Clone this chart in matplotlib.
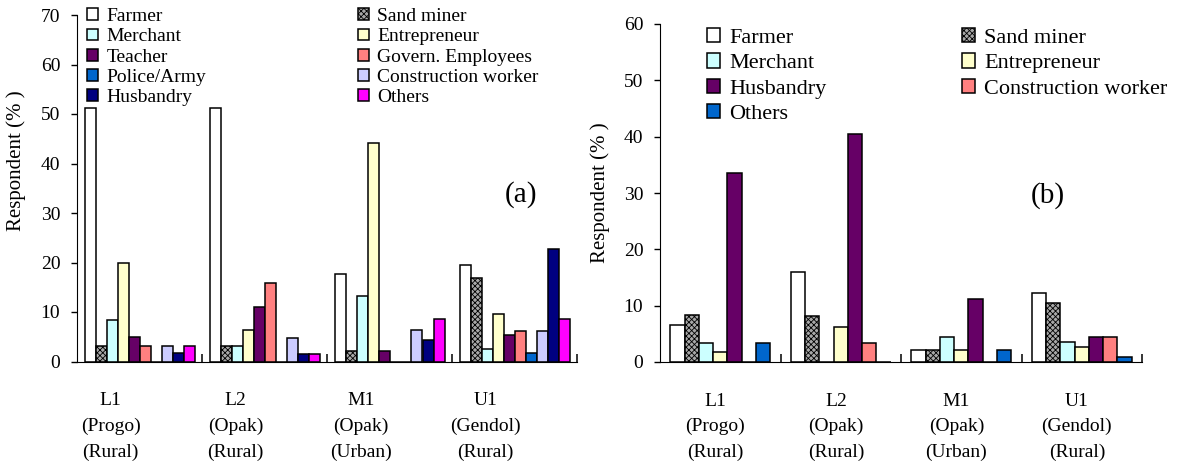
import numpy as np
import matplotlib
matplotlib.use("Agg")
import matplotlib.pyplot as plt
from matplotlib.ticker import FixedLocator, NullFormatter

plt.rcParams['font.family'] = ['Liberation Serif', 'DejaVu Serif']
plt.rcParams['hatch.linewidth'] = 0.6

sites = ["L1\n(Progo)\n(Rural)", "L2\n(Opak)\n(Rural)", "M1\n(Opak)\n(Urban)", "U1\n(Gendol)\n(Rural)"]

# panel (a) - occupation of respondents
occ_a = ["Farmer", "Sand miner", "Merchant", "Entrepreneur", "Teacher",
         "Govern. Employees", "Police/Army", "Construction worker", "Husbandry", "Others"]
farmer_a = [51.3, 51.3, 17.6, 19.4]
sand_a = [3.2, 3.2, 2.1, 16.8]
merchant_a = [8.4, 3.2, 13.2, 2.6]
entre_a = [19.8, 6.3, 44.1, 9.6]
teacher_a = [5.0, 11.1, 2.1, 5.4]
govern_a = [3.2, 15.9, 0, 6.2]
police_a = [0, 0, 0, 1.7]
constr_a = [3.2, 4.8, 6.4, 6.2]
husb_a = [1.7, 1.5, 4.4, 22.7]
others_a = [3.2, 1.5, 8.6, 8.6]
vals_a = [farmer_a, sand_a, merchant_a, entre_a, teacher_a, govern_a, police_a, constr_a, husb_a, others_a]
cols_a = ['white', '#a8a8a8', '#ccffff', '#ffffcc', '#660066', '#ff8080',
          '#0066cc', '#ccccff', '#000080', '#ff00ff']

# panel (b)
occ_b = ["Farmer", "Sand miner", "Merchant", "Entrepreneur", "Husbandry", "Construction worker", "Others"]
farmer_b = [6.6, 16.0, 2.1, 12.3]
sand_b = [8.4, 8.1, 2.1, 10.5]
merchant_b = [3.3, 0, 4.4, 3.6]
entre_b = [1.8, 6.2, 2.1, 2.7]
husb_b = [33.5, 40.4, 11.1, 4.4]
constr_b = [0, 3.3, 0, 4.4]
others_b = [3.3, 0, 2.1, 0.8]
vals_b = [farmer_b, sand_b, merchant_b, entre_b, husb_b, constr_b, others_b]
cols_b = ['white', '#a8a8a8', '#ccffff', '#ffffcc', '#660066', '#ff8080', '#0066cc']


def draw_panel(ax, names, vals, cols, width, ymax, lab_shift, tag, tagpos):
    x = np.arange(len(sites))
    n = len(names)
    handles = []
    for i in range(n):
        h = ax.bar(x + (i - (n - 1) / 2) * width, vals[i], width, color=cols[i],
                   edgecolor='black', linewidth=1.1, label=names[i],
                   hatch='xxxxxx' if names[i] == "Sand miner" else None)
        handles.append(h)
    ax.set_xlim(-0.5, len(sites) - 0.5)
    ax.set_ylim(0, ymax)
    ax.set_yticks(np.arange(0, ymax + 1, 10))
    ax.set_xticks(x + lab_shift)
    ax.set_xticklabels(sites, fontsize=14, linespacing=1.65)
    ax.tick_params(axis='x', which='major', length=0, pad=22)
    # separator ticks between the sites (and at the right end)
    ax.xaxis.set_minor_locator(FixedLocator(np.arange(0.5, len(sites), 1.0)))
    ax.xaxis.set_minor_formatter(NullFormatter())
    ax.tick_params(axis='x', which='minor', direction='in', length=6, width=1.1)
    ax.tick_params(axis='y', direction='out', length=4, width=1, labelsize=14, pad=8)
    ax.spines['top'].set_visible(False)
    ax.spines['right'].set_visible(False)
    ax.set_ylabel("Respondent (% )", fontsize=15)
    ax.text(tagpos[0], tagpos[1], tag, fontsize=21, transform=ax.transAxes)
    return handles


fig = plt.figure(figsize=(11.84, 4.68), dpi=100)
ax1 = fig.add_axes([77 / 1184, 1 - 361.5 / 468, 500 / 1184, 346.5 / 468])
ax2 = fig.add_axes([660 / 1184, 1 - 362 / 468, 482 / 1184, 338 / 468])

h1 = draw_panel(ax1, occ_a, vals_a, cols_a, 0.088, 70, -0.23, "(a)", (0.855, 0.46))
h2 = draw_panel(ax2, occ_b, vals_b, cols_b, 0.118, 60, -0.04, "(b)", (0.77, 0.47))

ax1.yaxis.set_label_coords(-0.102, 0.58)
ax2.yaxis.set_label_coords(-0.104, 0.5)

# legends are filled column-wise, so reorder to keep the row order of the original
order_a = [0, 2, 4, 6, 8, 1, 3, 5, 7, 9]
fig.legend([h1[i] for i in order_a], [occ_a[i] for i in order_a], ncol=2,
           loc='upper left', bbox_to_anchor=(87 / 1184, 1 - 8 / 468),
           frameon=False, fontsize=14, borderpad=0, borderaxespad=0,
           handlelength=0.55, handleheight=0.55, handletextpad=0.45,
           labelspacing=0.17, columnspacing=7.8)

order_b = [0, 2, 4, 6, 1, 3, 5]
fig.legend([h2[i] for i in order_b], [occ_b[i] for i in order_b], ncol=2,
           loc='upper left', bbox_to_anchor=(707 / 1184, 1 - 28 / 468),
           frameon=False, fontsize=16, borderpad=0, borderaxespad=0,
           handlelength=0.6, handleheight=0.6, handletextpad=0.4,
           labelspacing=0.25, columnspacing=6.1)

fig.savefig("out.png", dpi=100)
